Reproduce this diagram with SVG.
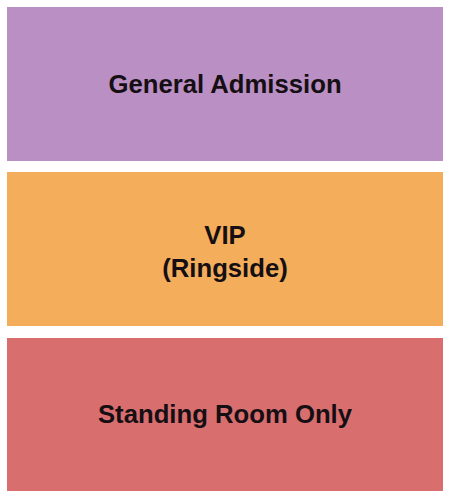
<svg xmlns="http://www.w3.org/2000/svg" width="450" height="500" viewBox="0 0 450 500">
<style>
.t{font-family:"Liberation Sans",Arial,sans-serif;font-weight:bold;font-size:25.7px;fill:#150f14;text-anchor:middle}
</style>
<rect width="450" height="500" fill="#ffffff"/>
<g id="general-admission">
<rect x="7" y="7" width="436" height="154" fill="#BA8FC3"/>
<text class="t" x="225" y="93">General Admission</text>
</g>
<g id="vip">
<rect x="7" y="172" width="436" height="154" fill="#F3AD5B"/>
<text class="t" x="225" y="244">VIP</text>
<text class="t" x="225" y="277">(Ringside)</text>
</g>
<g id="standing-room-only">
<rect x="7" y="338" width="436" height="153" fill="#D86E6E"/>
<text class="t" x="225" y="423">Standing Room Only</text>
</g>
<g id="connectors"/>
</svg>
